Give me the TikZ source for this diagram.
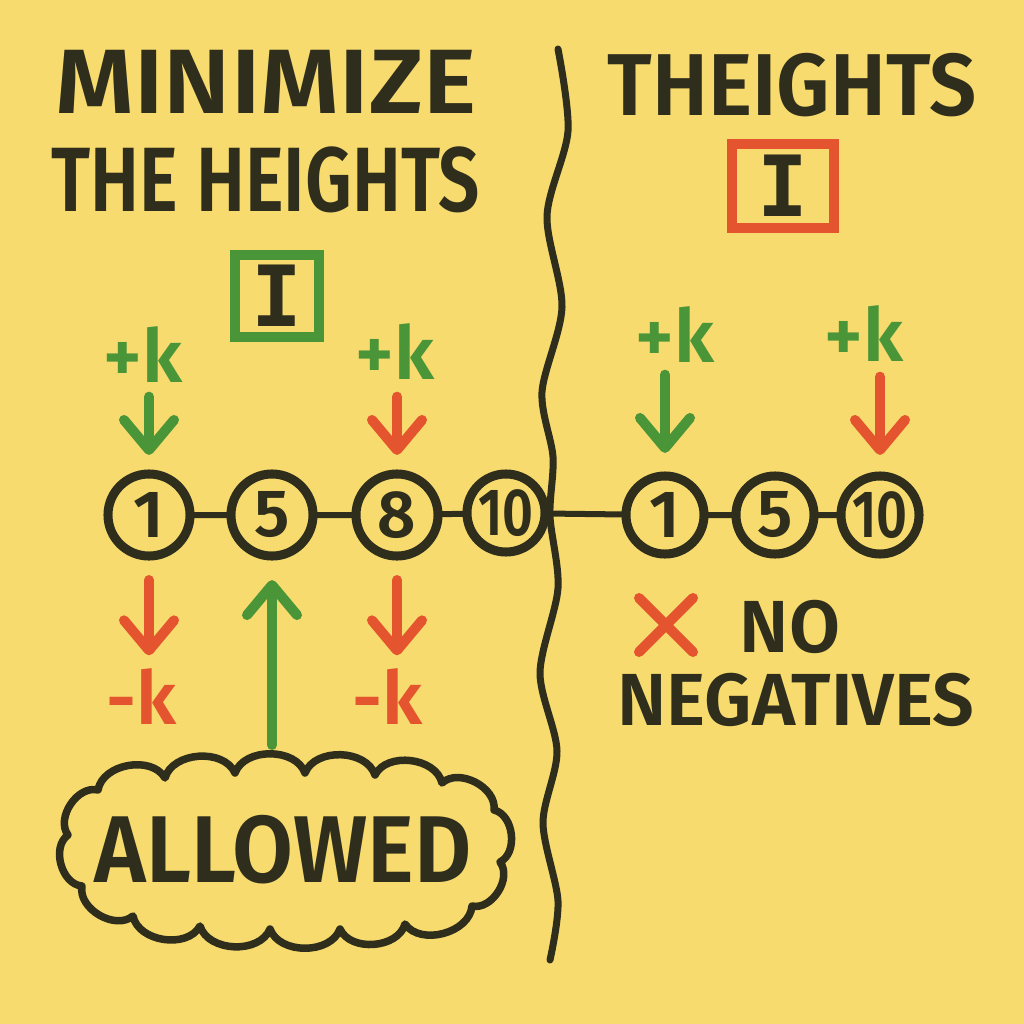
\documentclass[tikz,border=0pt]{standalone}
\usepackage{fontspec}
\setmainfont{Fira Sans}[BoldFont={Fira Sans SemiBold}]
\setmonofont{DejaVu Sans Mono}
\usetikzlibrary{arrows.meta,positioning}
\definecolor{paperColor}{HTML}{F7DB6E}
\definecolor{inkColor}{HTML}{2F2E1C}
\definecolor{plusColor}{HTML}{4B9539}
\definecolor{minusColor}{HTML}{E4542E}
\newcommand{\marker}[1]{\fontsize{#1}{#1}\selectfont\bfseries}

\begin{document}
\begin{tikzpicture}[
    x=0.01cm, y=-0.01cm,
    >={Straight Barb[length=0.3cm, width=0.5cm, round]},
    heading/.style={font=\marker{26pt}, text=inkColor, inner sep=0pt},
    ball/.style={circle, draw=inkColor, line width=0.09cm, minimum size=0.82cm, inner sep=0pt, outer sep=0pt, font=\marker{19pt}, text=inkColor},
    smallball/.style={ball, minimum size=0.78cm},
    link/.style={draw=inkColor, line width=0.06cm},
    deltalabel/.style={font=\marker{21pt}, inner sep=0pt},
    plusarrow/.style={->, draw=plusColor, line width=0.1cm, line cap=round},
    minusarrow/.style={->, draw=minusColor, line width=0.1cm, line cap=round},
    idbox/.style={rectangle, line width=0.1cm, inner sep=0pt, text=inkColor, font=\ttfamily\fontsize{24pt}{24pt}\selectfont\bfseries},
    puff/.style={bend left=70},
  ]

  % Paper
  \fill[paperColor] (0,0) rectangle (1024,1024);

  % Titles
  \node[heading] (minTitle) at (266,82) {\scalebox{1.1}[1]{MINIMIZE}};
  \node[heading] (heightsTitle) at (266,180) {\scalebox{0.8}[1]{THE HEIGHTS}};
  \node[heading, font=\marker{25pt}] (theightsTitle) at (792,85) {\scalebox{0.95}[1]{THEIGHTS}};

  % Identity boxes
  \node[idbox, draw=plusColor, minimum width=0.83cm, minimum height=0.82cm] (idLeft) at (277,296) {I};
  \node[idbox, draw=minusColor, minimum width=1.01cm, minimum height=0.83cm] (idRight) at (783,186) {I};

  % Divider
  \draw[inkColor, line width=0.07cm, line cap=round] plot[smooth] coordinates {(558,49) (568,131) (547,216) (562,307) (542,392) (553,457) (550,516) (558,588) (540,673) (557,751) (543,823) (558,901) (550,960)};

  % Heights
  \node[ball] (hA) at (149,515) {1};
  \node[ball] (hB) at (272,515) {5};
  \node[ball] (hC) at (397,515) {8};
  \node[smallball] (hD) at (506,513) {\scalebox{0.8}[1]{10}};
  \node[smallball] (gA) at (665,515) {1};
  \node[smallball] (gB) at (775,515) {5};
  \node[smallball] (gC) at (880,515) {\scalebox{0.8}[1]{10}};

  \draw[link] (hA) -- (hB) (hB) -- (hC) (hC) -- (hD) (hD) -- (gA) (gA) -- (gB) (gB) -- (gC);

  % Shift labels
  \node[deltalabel, text=plusColor] (upA) at (143,355) {+k};
  \node[deltalabel, text=plusColor] (upC) at (395,352) {+k};
  \node[deltalabel, text=minusColor] (downA) at (142,697) {-k};
  \node[deltalabel, text=minusColor] (downC) at (388,697) {-k};
  \node[deltalabel, text=plusColor] (upR1) at (675,335) {+k};
  \node[deltalabel, text=plusColor] (upR2) at (864,334) {+k};

  % Shift arrows
  \draw[plusarrow, shorten <=0.13cm, shorten >=0.19cm] (upA.south -| hA) -- (hA.north);
  \draw[minusarrow, shorten <=0.16cm, shorten >=0.19cm] (upC.south -| hC) -- (hC.north);
  \draw[plusarrow, shorten <=0.11cm, shorten >=0.23cm] (upR1.south -| gA) -- (gA.north);
  \draw[minusarrow, shorten <=0.14cm, shorten >=0.21cm] (upR2.south -| gC) -- (gC.north);
  \draw[minusarrow, shorten <=0.24cm, shorten >=0.13cm] (hA.south) -- (downA.north -| hA);
  \draw[minusarrow, shorten <=0.24cm, shorten >=0.13cm] (hC.south) -- (downC.north -| hC);

  % Right note
  \coordinate (noMark) at (666,625);
  \draw[minusColor, line width=0.1cm, line cap=round]
    ([shift={(-27,-27)}]noMark) -- ([shift={(27,27)}]noMark)
    ([shift={(-27,27)}]noMark) -- ([shift={(27,-27)}]noMark);
  \node[heading, font=\marker{21pt}] (noText) at (790,627) {NO};
  \node[heading, font=\marker{21pt}] (negText) at (796,700) {NEGATIVES};

  % Cloud
  \node[heading, font=\marker{27pt}] (allowedCloud) at (283,850) {\scalebox{0.93}[1]{ALLOWED}};
  \draw[inkColor, line width=0.075cm, line join=round]
    (68,835) to[puff] (98,790) to[puff] (165,778) to[puff] (235,773) to[puff] (305,773)
    to[puff] (375,775) to[puff] (442,783) to[puff] (494,810) to[puff] (500,862)
    to[puff] (472,906) to[puff] (405,924) to[puff] (340,929) to[puff] (270,929)
    to[puff] (200,926) to[puff] (133,916) to[puff] (82,886) to[puff] (68,835) -- cycle;
  \coordinate (cloudTop) at (272,756);
  \draw[plusarrow, shorten <=0.11cm, shorten >=0.24cm] (cloudTop) -- (hB.south);

\end{tikzpicture}
\end{document}
